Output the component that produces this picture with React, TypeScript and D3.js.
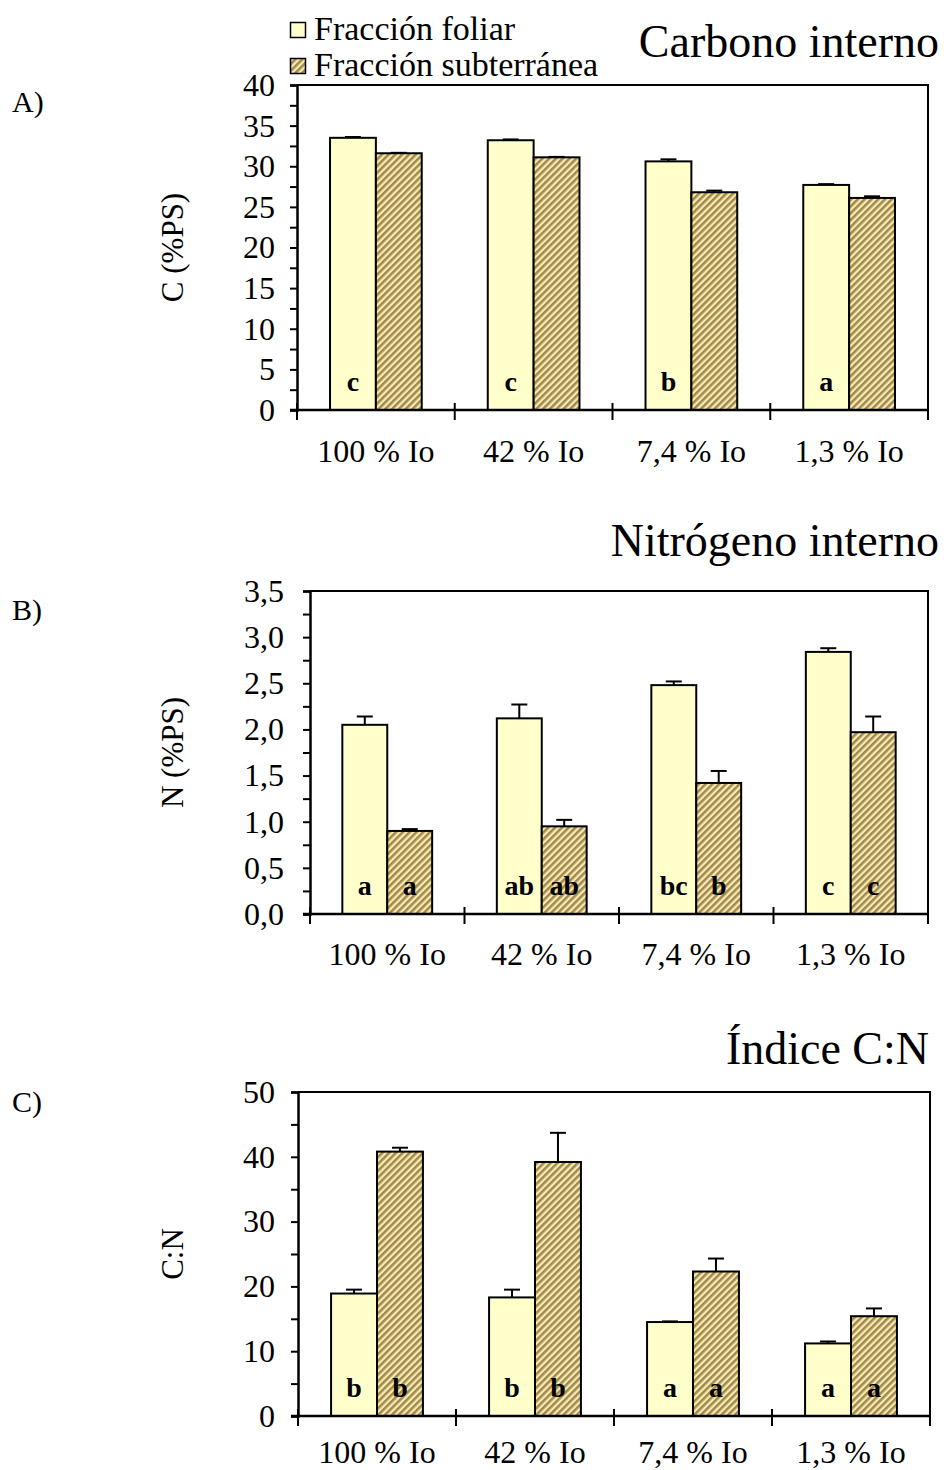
import React, { useEffect, useRef } from 'react'
import * as d3 from 'd3'

// categories and series
const categories = ['100 % Io', '42 % Io', '7,4 % Io', '1,3 % Io']
const keys = ['foliar', 'subterranea']
const legendLabels = ['Fracción foliar', 'Fracción subterránea']

// A) Carbono interno (% PS)
const carbonFoliar = [33.5, 33.2, 30.6, 27.7]
const carbonFoliarErr = [0.1, 0.1, 0.25, 0.1]
const carbonSub = [31.6, 31.1, 26.8, 26.1]
const carbonSubErr = [0.05, 0.05, 0.2, 0.2]
const carbonLettersFoliar = ['c', 'c', 'b', 'a']
const carbonLettersSub = ['', '', '', '']
const carbonTicks = [0, 5, 10, 15, 20, 25, 30, 35, 40]

// B) Nitrógeno interno (% PS)
const nitroFoliar = [2.05, 2.12, 2.48, 2.84]
const nitroFoliarErr = [0.09, 0.15, 0.04, 0.04]
const nitroSub = [0.9, 0.95, 1.42, 1.97]
const nitroSubErr = [0.02, 0.07, 0.13, 0.17]
const nitroLettersFoliar = ['a', 'ab', 'bc', 'c']
const nitroLettersSub = ['a', 'ab', 'b', 'c']
const nitroTicks = [0, 0.5, 1, 1.5, 2, 2.5, 3, 3.5]

// C) Índice C:N
const cnFoliar = [18.9, 18.3, 14.5, 11.2]
const cnFoliarErr = [0.6, 1.2, 0.1, 0.3]
const cnSub = [40.8, 39.2, 22.3, 15.4]
const cnSubErr = [0.6, 4.5, 2.0, 1.2]
const cnLettersFoliar = ['b', 'b', 'a', 'a']
const cnLettersSub = ['b', 'b', 'a', 'a']
const cnTicks = [0, 10, 20, 30, 40, 50]

const FONT = '"Liberation Serif", "Times New Roman", serif'
const FOLIAR_FILL = '#ffffcc'

const panels = [
  {
    label: 'A)', labelY: 112, title: 'Carbono interno', titleX: 939, titleY: 57,
    yTitle: 'C (%PS)', left: 297, right: 928, top: 85, bottom: 410, xLabelDy: 52,
    ticks: carbonTicks, minorStep: 2.5, fmt: (d: number) => String(d), tickGap: 22,
    foliar: carbonFoliar, foliarErr: carbonFoliarErr, sub: carbonSub, subErr: carbonSubErr,
    lf: carbonLettersFoliar, ls: carbonLettersSub,
  },
  {
    label: 'B)', labelY: 620, title: 'Nitrógeno interno', titleX: 939, titleY: 556,
    yTitle: 'N (%PS)', left: 310, right: 928, top: 591, bottom: 914, xLabelDy: 51,
    ticks: nitroTicks, minorStep: 0.25, fmt: (d: number) => d.toFixed(1).replace('.', ','), tickGap: 26,
    foliar: nitroFoliar, foliarErr: nitroFoliarErr, sub: nitroSub, subErr: nitroSubErr,
    lf: nitroLettersFoliar, ls: nitroLettersSub,
  },
  {
    label: 'C)', labelY: 1112, title: 'Índice C:N', titleX: 929, titleY: 1064,
    yTitle: 'C:N', left: 298, right: 930, top: 1092, bottom: 1416, xLabelDy: 47,
    ticks: cnTicks, minorStep: 5, fmt: (d: number) => String(d), tickGap: 23,
    foliar: cnFoliar, foliarErr: cnFoliarErr, sub: cnSub, subErr: cnSubErr,
    lf: cnLettersFoliar, ls: cnLettersSub,
  },
]

const App = () => {
  const svgRef = useRef<SVGSVGElement>(null)

  useEffect(() => {
    const svg = d3.select(svgRef.current)
    svg.selectAll('*').remove()

    const defs = svg.append('defs')
    const pat = defs.append('pattern')
      .attr('id', 'hatch')
      .attr('patternUnits', 'userSpaceOnUse')
      .attr('width', 4.8)
      .attr('height', 4.8)
      .attr('patternTransform', 'rotate(45)')
    pat.append('rect').attr('width', 4.8).attr('height', 4.8).attr('fill', '#f6ecb0')
    pat.append('rect').attr('width', 2.5).attr('height', 4.8).attr('fill', '#a2874f')

    const fills: Record<string, string> = { foliar: FOLIAR_FILL, subterranea: 'url(#hatch)' }

    // legend
    const legend = svg.append('g').attr('font-family', FONT).attr('font-size', 34)
    legendLabels.forEach((t, i) => {
      legend.append('rect')
        .attr('x', 290.5).attr('y', 22.5 + i * 36)
        .attr('width', 15).attr('height', 15)
        .attr('fill', fills[keys[i]]).attr('stroke', '#000').attr('stroke-width', 1.5)
      legend.append('text')
        .attr('x', 314).attr('y', 40 + i * 36)
        .text(t)
    })

    panels.forEach(p => {
      const g = svg.append('g').attr('font-family', FONT)
      const y = d3.scaleLinear()
        .domain([0, p.ticks[p.ticks.length - 1]])
        .range([p.bottom, p.top])
      const x0 = d3.scaleBand().domain(categories).range([p.left, p.right]).padding(0)
      const x1 = d3.scaleBand().domain(keys).range([0, x0.bandwidth()])
        .paddingInner(0).paddingOuter(0.72)

      // panel label, title, y title
      g.append('text').attr('x', 12).attr('y', p.labelY).attr('font-size', 30).text(p.label)
      g.append('text').attr('x', p.titleX).attr('y', p.titleY)
        .attr('font-size', 46).attr('text-anchor', 'end').text(p.title)
      g.append('text')
        .attr('transform', `translate(183,${(p.top + p.bottom) / 2}) rotate(-90)`)
        .attr('font-size', 31).attr('text-anchor', 'middle').text(p.yTitle)

      // frame top & right
      g.append('path')
        .attr('d', `M${p.left},${p.top}H${p.right}V${p.bottom}`)
        .attr('fill', 'none').attr('stroke', '#000').attr('stroke-width', 2)

      // bars
      const rows = categories.map((c, i) => ({
        cat: c,
        items: [
          { key: 'foliar', value: p.foliar[i], err: p.foliarErr[i], letter: p.lf[i] },
          { key: 'subterranea', value: p.sub[i], err: p.subErr[i], letter: p.ls[i] },
        ],
      }))
      const grp = g.append('g').selectAll('g').data(rows).enter().append('g')
        .attr('transform', d => `translate(${x0(d.cat)},0)`)
      const item = grp.selectAll('g').data(d => d.items).enter().append('g')

      item.append('line')
        .attr('x1', d => (x1(d.key) as number) + x1.bandwidth() / 2)
        .attr('x2', d => (x1(d.key) as number) + x1.bandwidth() / 2)
        .attr('y1', d => y(d.value))
        .attr('y2', d => y(d.value + d.err))
        .attr('stroke', '#000').attr('stroke-width', 2)
      item.append('line')
        .attr('x1', d => (x1(d.key) as number) + x1.bandwidth() / 2 - 8)
        .attr('x2', d => (x1(d.key) as number) + x1.bandwidth() / 2 + 8)
        .attr('y1', d => y(d.value + d.err))
        .attr('y2', d => y(d.value + d.err))
        .attr('stroke', '#000').attr('stroke-width', 2)
      item.append('rect')
        .attr('x', d => x1(d.key) as number)
        .attr('y', d => y(d.value))
        .attr('width', x1.bandwidth())
        .attr('height', d => p.bottom - y(d.value))
        .attr('fill', d => fills[d.key])
        .attr('stroke', '#000').attr('stroke-width', 2)
      item.append('text')
        .attr('x', d => (x1(d.key) as number) + x1.bandwidth() / 2)
        .attr('y', p.bottom - 19)
        .attr('text-anchor', 'middle')
        .attr('font-size', 28).attr('font-weight', 'bold')
        .text(d => d.letter)

      // y axis
      const minor = d3.range(0, p.ticks[p.ticks.length - 1] + 1e-9, p.minorStep)
      const yAxis = g.append('g')
        .attr('transform', `translate(${p.left},0)`)
        .call(d3.axisLeft(y).tickValues(minor).tickSize(7).tickFormat(() => ''))
      yAxis.select('.domain').attr('stroke-width', 2.5)
      yAxis.selectAll('.tick line').attr('stroke-width', 2)
      g.append('g').selectAll('text').data(p.ticks).enter().append('text')
        .attr('x', p.left - p.tickGap)
        .attr('y', d => y(d))
        .attr('dy', '0.34em')
        .attr('text-anchor', 'end')
        .attr('font-size', 32)
        .text(d => p.fmt(d))

      // x axis
      g.append('line')
        .attr('x1', p.left - 7).attr('x2', p.right)
        .attr('y1', p.bottom).attr('y2', p.bottom)
        .attr('stroke', '#000').attr('stroke-width', 2.5)
      const bounds = categories.map(c => x0(c) as number).concat([p.right])
      g.append('g').selectAll('line').data(bounds).enter().append('line')
        .attr('x1', d => d).attr('x2', d => d)
        .attr('y1', p.bottom - 7).attr('y2', p.bottom + 10)
        .attr('stroke', '#000').attr('stroke-width', 2)
      g.append('g').selectAll('text').data(categories).enter().append('text')
        .attr('x', d => (x0(d) as number) + x0.bandwidth() / 2)
        .attr('y', p.bottom + p.xLabelDy)
        .attr('text-anchor', 'middle')
        .attr('font-size', 32)
        .text(d => d)
    })
  }, [])

  return (
    <div style={{ position: 'absolute', left: 0, top: 0 }}>
      <svg ref={svgRef} width={944} height={1470} style={{ display: 'block', background: '#fff' }} />
    </div>
  )
}

export default App
